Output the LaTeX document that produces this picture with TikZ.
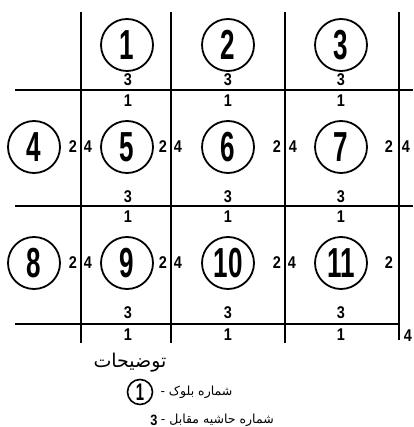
\documentclass[tikz,border=0pt]{standalone}
\usepackage{fontspec}
\usepackage{tikz}
\usetikzlibrary{positioning}
\TeXXeTstate=1
\newfontfamily\numfont[FakeStretch=0.62]{Liberation Sans Bold}
\newfontfamily\lblfont[FakeStretch=0.85]{Liberation Sans Bold}
\newfontfamily\fafont[Script=Arabic]{DejaVu Sans}

\begin{document}
\begin{tikzpicture}[x=1pt, y=-1pt,
      grid/.style={line width=1.8pt},
      blk/.style={circle, draw, line width=1.8pt, minimum size=52pt, inner sep=0pt,
                  font=\numfont\fontsize{42}{42}\selectfont},
      lbl/.style={inner sep=0pt, font=\lblfont\fontsize{17}{17}\selectfont},
      fa/.style={inner sep=0pt, font=\fafont\fontsize{12.5}{14}\selectfont}]
    \useasboundingbox (0,0) rectangle (413,427);
    % grid of the blocks
    \draw[grid] (81,12) -- (81,343);   \draw[grid] (171,12) -- (171,343);
    \draw[grid] (285,12) -- (285,343); \draw[grid] (399,12) -- (399,340);
    \draw[grid] (15,90) -- (413,90);   \draw[grid] (15,206) -- (413,206);
    \draw[grid] (15,324) -- (399,324);
    % block numbers
    \node[blk] (c1) at (127,45) {1};
    \node[blk] (c2) at (228,45) {2};
    \node[blk] (c3) at (341,45) {3};
    \node[blk] (c4) at (34,147) {4};
    \node[blk] (c5) at (127,147) {5};
    \node[blk] (c6) at (228,147) {6};
    \node[blk] (c7) at (341,147) {7};
    \node[blk] (c8) at (34,263) {8};
    \node[blk] (c9) at (127,263) {9};
    \node[blk] (c10) at (228,263) {10};
    \node[blk] (c11) at (341,263) {11};
    % edge numbers, row 1
    \node[lbl] (b1) at (128,80) {3}; \node[lbl] (b2) at (228,80) {3}; \node[lbl] (b3) at (341,80) {3};
    % row 2
    \node[lbl] (t5) at (128,101) {1}; \node[lbl] (t6) at (228,101) {1}; \node[lbl] (t7) at (341,101) {1};
    \node[lbl] (r4) at (73,147) {2};  \node[lbl] (l5) at (88,147) {4};
    \node[lbl] (r5) at (163,147) {2}; \node[lbl] (l6) at (178,147) {4};
    \node[lbl] (r6) at (277,147) {2}; \node[lbl] (l7) at (293,147) {4};
    \node[lbl] (r7) at (389,147) {2}; \node[lbl] (l7x) at (406,147) {4};
    \node[lbl] (b5) at (128,197) {3}; \node[lbl] (b6) at (228,197) {3}; \node[lbl] (b7) at (341,197) {3};
    % row 3
    \node[lbl] (t9) at (128,217) {1}; \node[lbl] (t10) at (228,217) {1}; \node[lbl] (t11) at (341,217) {1};
    \node[lbl] (r8) at (73,263) {2};  \node[lbl] (l9) at (88,263) {4};
    \node[lbl] (r9) at (163,263) {2}; \node[lbl] (l10) at (178,263) {4};
    \node[lbl] (r10) at (277,263) {2}; \node[lbl] (l11) at (292,263) {4};
    \node[lbl] (r11) at (389,263) {2};
    \node[lbl] (b9) at (128,313) {3}; \node[lbl] (b10) at (228,313) {3}; \node[lbl] (b11) at (341,313) {3};
    \node[lbl] (t13) at (128,335) {1}; \node[lbl] (t14) at (228,335) {1}; \node[lbl] (t15) at (341,335) {1};
    \node[lbl] (l15) at (408,336) {4};
    % legend
    \node[fa, font=\fafont\fontsize{19}{22}\selectfont] (ttl) at (130,363) {\beginR توضیحات\endR};
    \node[blk, minimum size=25pt, line width=1.6pt, font=\numfont\fontsize{24}{24}\selectfont] (lg) at (140,392) {1};
    \node[fa, right=7pt of lg] (lgt) {\beginR شماره بلوک -\endR};
    \node[lbl, font=\lblfont\fontsize{15}{15}\selectfont] (lg3) at (154,420) {3};
    \node[fa, right=3pt of lg3] (lg3t) {\beginR شماره حاشیه مقابل -\endR};
  \end{tikzpicture}
\end{document}
